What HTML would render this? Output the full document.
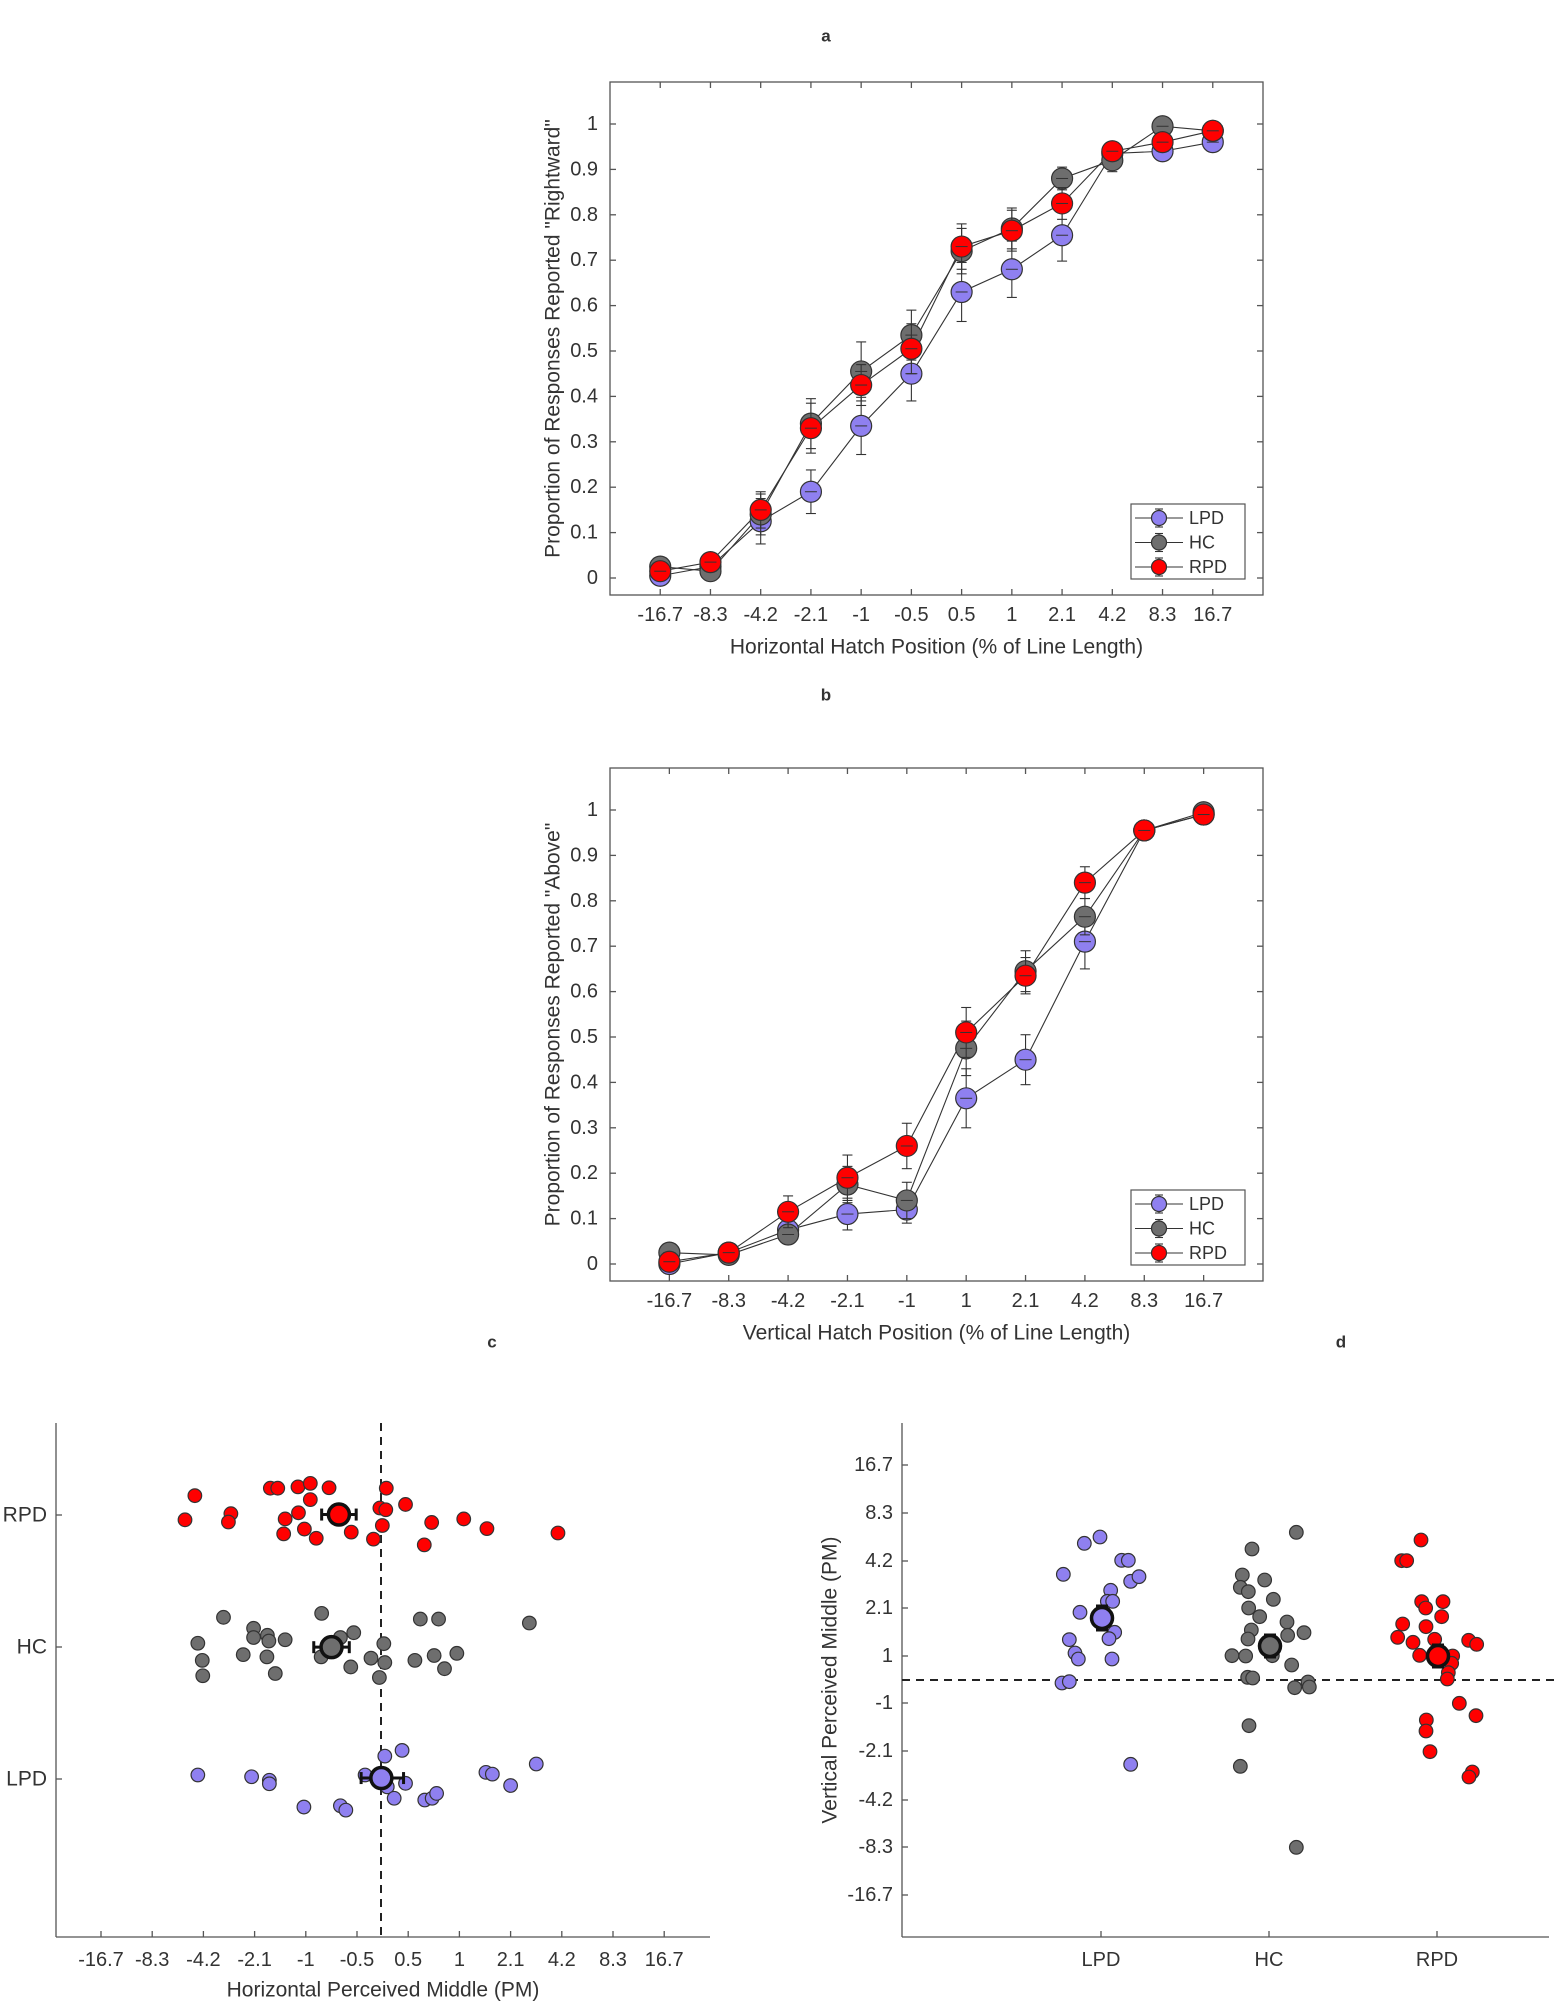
<!DOCTYPE html>
<html><head><meta charset="utf-8"><style>
html,body{margin:0;padding:0;background:#fff;}
svg{display:block;font-family:"Liberation Sans",Arial,sans-serif;}
</style></head><body>
<svg id="s" width="1558" height="2009" viewBox="0 0 1558 2009" xmlns="http://www.w3.org/2000/svg"></svg>
<script>
var S=document.getElementById('s');var out='';
function L(x1,y1,x2,y2,c,w,d){out+='<line x1="'+x1+'" y1="'+y1+'" x2="'+x2+'" y2="'+y2+'" stroke="'+(c||'#555')+'" stroke-width="'+(w||1.3)+'"'+(d?' stroke-dasharray="'+d+'"':'')+'/>';}
function C(x,y,r,f,st,sw){out+='<circle cx="'+x+'" cy="'+y+'" r="'+r+'" fill="'+f+'" stroke="'+(st||'#333')+'" stroke-width="'+(sw||1.2)+'"/>';}
function T(x,y,t,sz,anc,extra){out+='<text x="'+x+'" y="'+y+'" font-size="'+sz+'" fill="#333" text-anchor="'+(anc||'middle')+'" dominant-baseline="central" '+(extra||'')+'>'+t+'</text>';}
var COL={LPD:'#8f80f0',HC:'#6e6e6e',RPD:'#ff0000'};
function psy(o){
 var X0=610,X1=1263,Y0=o.top,Y1=o.bot,n=o.labels.length,step=(X1-X0)/(n+1);
 function px(i){return X0+step*(i+1);} function py(v){return o.y0-(o.y0-o.y1)*v;}
 out+='<rect x="'+X0+'" y="'+Y0+'" width="'+(X1-X0)+'" height="'+(Y1-Y0)+'" fill="none" stroke="#555" stroke-width="1.3"/>';
 for(var i=0;i<n;i++){var x=px(i);L(x,Y1,x,Y1-6);L(x,Y0,x,Y0+6);T(x,Y1+20,o.labels[i],20);}
 for(var k=0;k<=10;k++){var y=py(k/10);L(X0,y,X0+6,y);L(X1,y,X1-6,y);T(X0-12,y,k==0?'0':(k==10?'1':(k/10).toFixed(1)),20,'end');}
 T((X0+X1)/2,Y1+52,o.xl,21);
 T(553,(Y0+Y1)/2,o.yl,21,'middle','transform="rotate(-90 553 '+((Y0+Y1)/2)+')"');
 var ord=['LPD','HC','RPD'];
 ord.forEach(function(s){var d=o.d[s],e=o.e[s],pts=[];
  for(var i=0;i<n;i++)pts.push(px(i)+','+py(d[i]));
  out+='<polyline points="'+pts.join(' ')+'" fill="none" stroke="#333" stroke-width="1.1"/>';});
 ord.forEach(function(s){var d=o.d[s],e=o.e[s];
  for(var i=0;i<n;i++){var x=px(i),a=py(d[i]+e[i]),b=py(d[i]-e[i]);L(x,a,x,b,'#333',1.1);L(x-5,a,x+5,a,'#333',1.1);L(x-5,b,x+5,b,'#333',1.1);}
  for(var i=0;i<n;i++){C(px(i),py(d[i]),10.5,COL[s],'#333',1.2);var y=py(d[i]);L(px(i)-6,y,px(i)+6,y,'#333',1);}});
 var lx=1131,ly=o.leg;out+='<rect x="'+lx+'" y="'+ly+'" width="114" height="75" fill="#fff" stroke="#555" stroke-width="1.2"/>';
 ord.forEach(function(s,j){var y=ly+14+j*24.5;L(lx+4,y,lx+52,y,'#333',1.1);L(lx+28,y-9,lx+28,y+9,'#333',1.1);L(lx+24,y-9,lx+32,y-9,'#333',1.1);L(lx+24,y+9,lx+32,y+9,'#333',1.1);C(lx+28,y,7.5,COL[s]);T(lx+58,y,s,18,'start');});
}
psy({top:82,bot:595,y1:124,y0:578,leg:504,labels:['-16.7','-8.3','-4.2','-2.1','-1','-0.5','0.5','1','2.1','4.2','8.3','16.7'],
 xl:'Horizontal Hatch Position (% of Line Length)',yl:'Proportion of Responses Reported "Rightward"',
 d:{LPD:[0.005,0.025,0.125,0.19,0.335,0.45,0.63,0.68,0.755,0.935,0.94,0.96],
    HC:[0.025,0.015,0.14,0.34,0.455,0.535,0.72,0.77,0.88,0.92,0.995,0.985],
    RPD:[0.015,0.035,0.15,0.33,0.425,0.505,0.73,0.765,0.825,0.94,0.96,0.985]},
 e:{LPD:[0.005,0.01,0.05,0.048,0.063,0.06,0.065,0.062,0.057,0.02,0.02,0.012],
    HC:[0.012,0.01,0.045,0.055,0.065,0.055,0.05,0.045,0.025,0.025,0.005,0.01],
    RPD:[0.01,0.01,0.04,0.055,0.045,0.055,0.05,0.045,0.035,0.02,0.015,0.01]}});
psy({top:768,bot:1281,y1:810,y0:1264,leg:1190,labels:['-16.7','-8.3','-4.2','-2.1','-1','1','2.1','4.2','8.3','16.7'],
 xl:'Vertical Hatch Position (% of Line Length)',yl:'Proportion of Responses Reported "Above"',
 d:{LPD:[0.0,0.025,0.075,0.11,0.12,0.365,0.45,0.71,0.955,0.99],
    HC:[0.025,0.02,0.065,0.175,0.14,0.475,0.645,0.765,0.955,0.995],
    RPD:[0.005,0.025,0.115,0.19,0.26,0.51,0.635,0.84,0.955,0.99]},
 e:{LPD:[0.005,0.01,0.025,0.035,0.03,0.065,0.055,0.06,0.01,0.005],
    HC:[0.01,0.01,0.02,0.04,0.04,0.06,0.045,0.04,0.01,0.005],
    RPD:[0.005,0.01,0.035,0.05,0.05,0.055,0.04,0.035,0.01,0.01]}});
T(826,36,'a',17,'middle','font-weight="bold"');T(826,695,'b',17,'middle','font-weight="bold"');
T(492,1342,'c',17,'middle','font-weight="bold"');T(1341,1342,'d',17,'middle','font-weight="bold"');
// plot c
L(56,1423,56,1937);L(56,1937,710,1937);
var cl=['-16.7','-8.3','-4.2','-2.1','-1','-0.5','0.5','1','2.1','4.2','8.3','16.7'];
for(var i=0;i<12;i++){var x=101+51.2*i;L(x,1937,x,1931);T(x,1960,cl[i],20);}
[['RPD',1515],['HC',1647],['LPD',1779]].forEach(function(a){L(56,a[1],62,a[1]);T(47,a[1],a[0],21,'end');});
T(383,1990,'Horizontal Perceived Middle (PM)',21);
function cz(X,Y){return [X/2.027,1320+Y/2.277];}
var cd={RPD:[[395,400],[375,455],[468,441],[463,460],[548,383],[563,383],[604,380],[629,372],[667,382],[629,409],[605,439],[578,453],[575,487],[617,476],[641,497],[712,483],[757,499],[770,428],[782,432],[783,383],[775,468],[822,420],[875,461],[940,453],[987,475],[1131,485],[860,512]],
HC:[[453,677],[652,668],[852,681],[889,681],[1073,690],[514,702],[514,723],[542,718],[545,731],[578,728],[717,712],[690,723],[401,736],[410,775],[411,810],[493,762],[541,767],[558,805],[651,767],[752,770],[778,737],[780,780],[711,790],[769,814],[841,775],[880,764],[926,759],[901,794]],
LPD:[[401,1036],[510,1040],[546,1048],[546,1056],[616,1109],[690,1106],[701,1116],[740,1036],[780,993],[815,980],[785,1063],[822,1055],[799,1089],[861,1093],[876,1089],[885,1078],[985,1030],[998,1034],[1035,1060],[1087,1011]]};
L(381,1423,381,1937,'#222',2,'8,6');
var cm={RPD:[687,443,652,722],HC:[672,745,636,708],LPD:[773,1043,732,818]};
for(var s in cd){cd[s].forEach(function(p){var q=cz(p[0],p[1]);C(q[0],q[1],6.8,COL[s],'#333',1.2);});}
for(var s in cm){var m=cm[s],q=cz(m[0],m[1]),a=m[2]/2.027,b=m[3]/2.027;L(a,q[1],b,q[1],'#111',3);L(a,q[1]-6,a,q[1]+6,'#111',3);L(b,q[1]-6,b,q[1]+6,'#111',3);C(q[0],q[1],10.5,COL[s],'#111',3.5);}
// plot d
L(902,1423,902,1937);L(902,1937,1549,1937);
var dl=['16.7','8.3','4.2','2.1','1','-1','-2.1','-4.2','-8.3','-16.7'],dy=[1465,1513,1561,1608,1656,1703,1751,1800,1847,1895];
for(var i=0;i<10;i++){L(902,dy[i],908,dy[i]);T(893,dy[i],dl[i],20,'end');}
[['LPD',1101],['HC',1269],['RPD',1437]].forEach(function(a){L(a[1],1937,a[1],1931);T(a[1],1960,a[0],20);});
T(830,1680,'Vertical Perceived Middle (PM)',21,'middle','transform="rotate(-90 830 1680)"');
L(902,1680,1558,1680,'#222',2,'8,6');
var dd={LPD:[[820,523],[883,430],[930,411],[995,481],[1015,481],[1022,544],[1047,530],[962,571],[952,604],[968,604],[870,637],[974,697],[957,716],[838,719],[855,759],[865,777],[966,777],[816,849],[838,845],[1022,1093]]};
dd.LPD=dd.LPD.map(function(p){return [790+p[0]/3,1400+p[1]/3];});
var hc=[[349,157],[216,207],[187,285],[254,300],[181,322],[205,335],[280,358],[206,384],[239,410],[321,426],[214,450],[204,477],[323,466],[372,458],[156,527],[197,528],[277,527],[335,555],[203,592],[218,594],[384,606],[344,623],[388,621],[207,737],[181,859],[349,1102]];
var rp=[[723,180],[665,242],[680,242],[725,365],[737,384],[789,365],[785,410],[668,432],[738,440],[653,472],[699,487],[764,478],[866,481],[890,493],[719,526],[818,528],[815,550],[805,578],[802,597],[838,670],[888,707],[739,720],[738,753],[750,815],[877,876],[867,891]];
dd.HC=hc.map(function(p){return [1180+p[0]/3,1480+p[1]/3];});
dd.RPD=rp.map(function(p){return [1180+p[0]/3,1480+p[1]/3];});
for(var s in dd){dd[s].forEach(function(p){C(p[0],p[1],6.8,COL[s],'#333',1.2);});}
var dm={LPD:[1102,1618,12],HC:[1270,1646,11],RPD:[1438,1656,11]};
for(var s in dm){var m=dm[s];L(m[0],m[1]-m[2],m[0],m[1]+m[2],'#111',3);L(m[0]-6,m[1]-m[2],m[0]+6,m[1]-m[2],'#111',3);L(m[0]-6,m[1]+m[2],m[0]+6,m[1]+m[2],'#111',3);C(m[0],m[1],10.5,COL[s],'#111',3.5);}
S.innerHTML=out;
</script>
</body></html>
